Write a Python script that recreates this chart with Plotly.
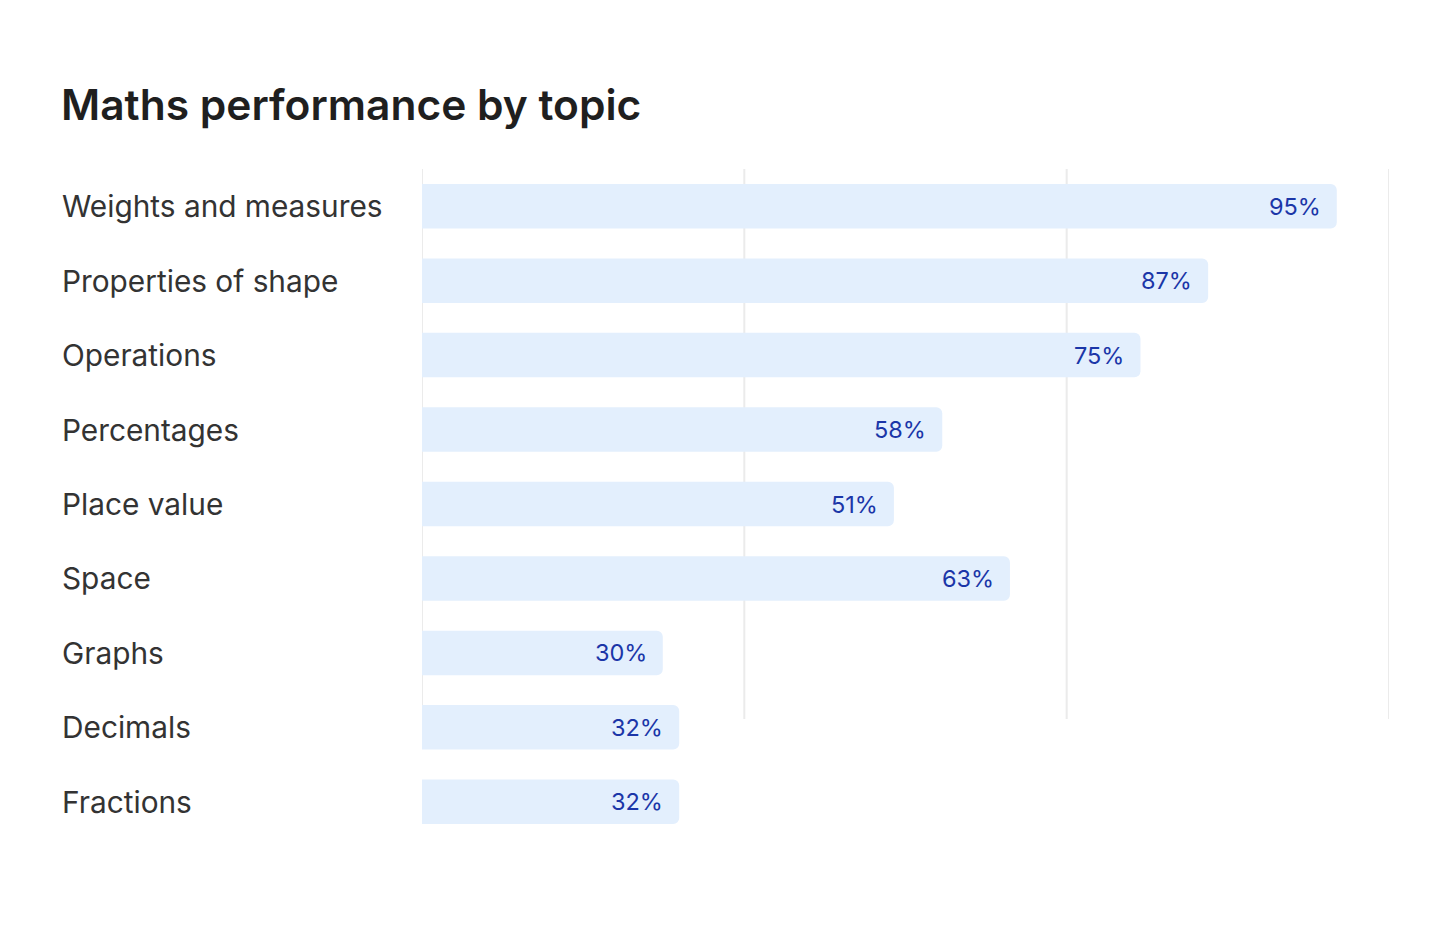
import plotly.graph_objects as go

categories = ["Weights and measures", "Properties of shape", "Operations", "Percentages",
              "Place value", "Space", "Graphs", "Decimals", "Fractions"]
bar_values = [94.6, 81.3, 74.3, 53.8, 48.8, 60.8, 24.9, 26.6, 26.6]
value_labels = ["95%", "87%", "75%", "58%", "51%", "63%", "30%", "32%", "32%"]
grid_ticks = [0, 100 / 3, 200 / 3, 100]

W, H = 1440, 940
L, R, T, B = 414, 59, 161, 109
plot_w = W - L - R
plot_h = H - T - B

fig = go.Figure()
fig.add_trace(go.Bar(
    y=categories, x=bar_values, orientation="h",
    marker=dict(color="#e3effd", line=dict(width=0)),
    hoverinfo="skip",
))

shapes = []
for t in grid_ticks:
    shapes.append(dict(type="line", xref="x", yref="paper", x0=t, x1=t,
                       y0=120 / plot_h, y1=1,
                       line=dict(color="#ebebeb", width=2), layer="below"))

annotations = []
for c in categories:
    annotations.append(dict(xref="paper", yref="y", x=(52 - L) / plot_w, y=c,
                            text=c, showarrow=False, xanchor="left", yanchor="middle",
                            font=dict(family="Inter", size=29.8, color="#333333")))
for c, v, lab in zip(categories, bar_values, value_labels):
    annotations.append(dict(xref="x", yref="y", x=v, y=c, text=lab, showarrow=False,
                            xanchor="right", yanchor="middle", xshift=-14,
                            font=dict(family="Inter", size=23.5, color="#1b36a8")))

fig.update_layout(
    width=W, height=H,
    margin=dict(l=L, r=R, t=T, b=B),
    paper_bgcolor="white", plot_bgcolor="white",
    title=dict(text="Maths performance by topic", x=53 / W, xref="container", xanchor="left",
               y=1 - 82 / H, yref="container", yanchor="top",
               font=dict(family="Inter", size=42.5, color="#1f1f1f", weight=600)),
    bargap=0.402,
    barcornerradius=6,
    xaxis=dict(range=[0, 100], showgrid=False, zeroline=False, showticklabels=False,
               showline=False, fixedrange=True),
    yaxis=dict(autorange="reversed", showgrid=False, zeroline=False, showticklabels=False,
               showline=False, fixedrange=True),
    shapes=shapes, annotations=annotations,
    showlegend=False,
)

fig.write_html("out.html")
